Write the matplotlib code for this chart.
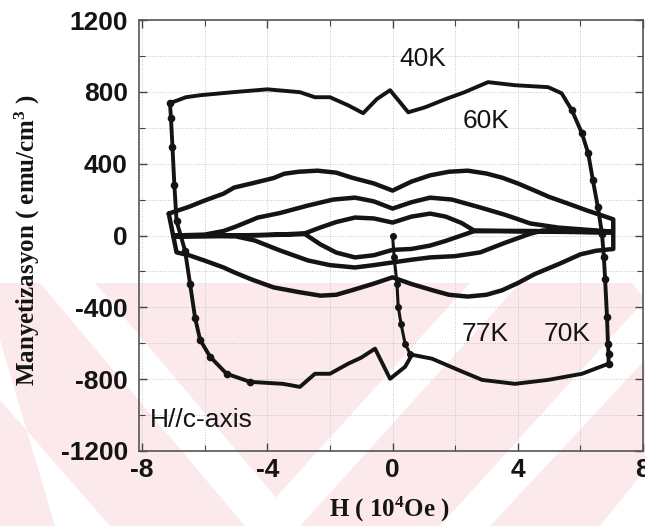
"""M-H hysteresis loops (H // c-axis) at 40, 60, 70 and 77 K."""

import matplotlib

matplotlib.use("Agg")

import matplotlib.pyplot as plt
from matplotlib.patches import Polygon
from matplotlib.ticker import MultipleLocator

W, HGT = 645, 526

# 40 K loop, in four pieces traced clockwise from the top-left corner
h_40k_top = [-7.11, -6.6, -6.15, -5.1, -4.0, -2.96, -2.48, -2.0, -1.42, -0.94, -0.5, -0.08,
             0.2, 0.5, 1.04, 1.7, 2.3, 3.05, 3.9, 4.97, 5.4, 5.73]
m_40k_top = [737, 770, 781, 798, 814, 798, 770, 770, 725, 681, 760, 809,
             750, 686, 714, 760, 798, 854, 837, 826, 792, 697]
h_40k_right = [6.05, 6.25, 6.4, 6.56, 6.69, 6.75, 6.79, 6.85, 6.88, 6.9, 6.9]
m_40k_right = [569, 457, 307, 156, 11, -120, -245, -452, -603, -660, -714]
h_40k_bottom = [6.05, 4.97, 3.91, 2.86, 2.09, 1.26, 0.62, 0.4, -0.08, -0.56, -1.0, -1.42,
                -2.0, -2.48, -2.96, -3.5, -4.55, -5.3]
m_40k_bottom = [-770, -804, -826, -804, -748, -686, -664, -731, -798, -630, -680, -714,
                -770, -770, -843, -826, -815, -770]
h_40k_left = [-5.83, -6.15, -6.31, -6.47, -6.63, -6.9, -6.97, -7.03, -7.08, -7.11]
m_40k_left = [-675, -580, -457, -268, -84, 80, 279, 491, 656, 737]

# initial (virgin) curve from the origin
h_virgin = [0.0, 0.05, 0.14, 0.18, 0.27, 0.4, 0.56]
m_virgin = [0, -120, -268, -396, -491, -603, -658]

# 60 K loop
h_60k = [-7.15, -6.5, -6.0, -5.4, -5.06, -4.5, -3.8, -3.46, -3.0, -2.4, -1.8, -1.3, -0.6, 0.0,
         0.6, 1.2, 1.8, 2.4, 3.0, 3.5, 4.0, 4.54, 5.0, 5.6, 6.2, 6.7, 7.05, 7.05,
         6.5, 6.0, 5.35, 4.54, 4.0, 3.5, 3.0, 2.4, 1.8, 1.3, 0.6, 0.0, -0.6, -1.3, -1.8,
         -2.3, -3.0, -3.8, -4.5, -5.06, -5.4, -6.0, -6.5, -6.9, -7.15]
m_60k = [122, 160, 195, 233, 267, 290, 320, 344, 355, 361, 350, 322, 290, 250,
         300, 335, 355, 361, 345, 322, 290, 250, 215, 178, 140, 111, 90, -75,
         -85, -105, -156, -215, -265, -305, -330, -340, -330, -306, -270, -233, -268, -305, -330,
         -335, -315, -289, -245, -205, -178, -140, -110, -94, 122]

# 70 K loop
h_70k = [-7.0, -6.0, -5.4, -5.0, -4.3, -3.6, -2.7, -1.9, -1.2, -0.6, 0.0, 0.6, 1.2, 1.9,
         2.8, 3.6, 4.4, 5.3, 6.2, 7.0,
         6.2, 5.3, 4.8, 4.4, 3.6, 2.8, 2.0, 1.2, 0.6, 0.0, -0.6, -1.2, -2.0, -2.7, -3.6,
         -4.4, -5.0, -6.0, -7.0]
m_70k = [0, 5, 25, 50, 100, 125, 167, 200, 211, 190, 150, 185, 211, 200,
         156, 115, 67, 44, 32, 22,
         24, 30, 28, 10, -40, -94, -115, -122, -135, -150, -165, -178, -165, -139, -83,
         -28, -5, -3, 0]

# 77 K loop
h_77k = [-7.0, -6.0, -5.0, -4.0, -3.4, -2.8, -2.3, -1.8, -1.2, -0.6, 0.0, 0.6, 1.2, 1.7,
         2.2, 2.6, 3.5, 4.5, 5.5, 6.3, 7.0,
         6.3, 5.5, 4.5, 3.5, 2.6, 2.2, 1.7, 1.2, 0.6, 0.0, -0.6, -1.2, -1.8, -2.3, -2.8,
         -3.4, -4.0, -5.0, -6.0, -7.0]
m_77k = [-5, -3, 0, 4, 7, 12, 45, 75, 100, 95, 72, 105, 122, 105,
         70, 28, 26, 25, 22, 20, 18,
         18, 20, 22, 24, 24, 0, -30, -56, -75, -80, -110, -122, -95, -50, 8,
         5, 2, 0, -3, -5]

loops = [(h_60k, m_60k), (h_70k, m_70k), (h_77k, m_77k)]

x_ticks = [-8, -4, 0, 4, 8]
x_ticklabels = ["-8", "-4", "0", "4", "8"]
y_ticks = [-1200, -800, -400, 0, 400, 800, 1200]
y_ticklabels = ["-1200", "-800", "-400", "0", "400", "800", "1200"]

# (text, H, M, ha)
labels = [
    ("40K", 0.97, 985, "center"),
    ("60K", 3.0, 640, "center"),
    ("77K", 2.95, -550, "center"),
    ("70K", 5.57, -550, "center"),
    ("H//c-axis", -7.75, -1025, "left"),
]

plt.rcParams["mathtext.fontset"] = "custom"
plt.rcParams["mathtext.rm"] = "Liberation Serif:bold"
plt.rcParams["mathtext.default"] = "rm"

fig = plt.figure(figsize=(W / 100, HGT / 100), dpi=100)


def fig_xy(x, y):
    return (x / W, 1 - y / HGT)


# pale pink chevron watermark behind the plot
PINK = "#fce9ec"
fig.add_artist(Polygon([fig_xy(0, 283), fig_xy(632, 283), fig_xy(645, 300),
                        fig_xy(645, 526), fig_xy(0, 526)],
                       closed=True, transform=fig.transFigure, fc=PINK, ec="none", zorder=-2))
white_bands = [
    [(40, 283), (95, 283), (300, 526), (245, 526)],
    [(0, 340), (0, 400), (110, 526), (55, 526)],
    [(470, 283), (520, 283), (300, 526), (250, 526)],
    [(645, 300), (645, 360), (490, 526), (440, 526)],
    [(645, 470), (645, 526), (600, 526)],
]
for band in white_bands:
    fig.add_artist(Polygon([fig_xy(*p) for p in band], closed=True,
                           transform=fig.transFigure, fc="white", ec="none", zorder=-1))

ax = fig.add_axes([139 / W, 1 - 451 / HGT, (643 - 139) / W, (451 - 20) / HGT])
ax.set_facecolor("none")

ink = "#141414"
h_40k = h_40k_top + h_40k_right + h_40k_bottom + h_40k_left
m_40k = m_40k_top + m_40k_right + m_40k_bottom + m_40k_left
# dots only on the steep field-reversal legs
n_top, n_right, n_bot = len(h_40k_top), len(h_40k_right), len(h_40k_bottom)
steep = list(range(n_top - 1, n_top + n_right)) + \
    list(range(n_top + n_right + n_bot - 2, len(h_40k)))
ax.plot(h_40k, m_40k, color=ink, lw=2.8, marker="o", ms=4.5, markevery=steep,
        solid_joinstyle="round")
ax.plot(h_virgin, m_virgin, color=ink, lw=2.2, marker="o", ms=4)
for h, m in loops:
    ax.plot(h, m, color=ink, lw=3.2, solid_joinstyle="round", solid_capstyle="round")

for text, hx, my, ha in labels:
    ax.text(hx, my, text, ha=ha, va="center", fontsize=19, color=ink,
            family="Liberation Sans")

ax.set_xlim(-8.1, 8.0)
ax.set_ylim(-1200, 1200)
ax.set_xticks(x_ticks)
ax.set_xticklabels(x_ticklabels)
ax.set_yticks(y_ticks)
ax.set_yticklabels(y_ticklabels)
ax.xaxis.set_minor_locator(MultipleLocator(2))
ax.yaxis.set_minor_locator(MultipleLocator(200))
ax.tick_params(which="both", direction="in", top=True, right=True, color="#444")
ax.tick_params(which="major", length=6, width=1)
ax.tick_params(which="minor", length=4, width=0.8)
ax.tick_params(axis="y", pad=8)
ax.tick_params(axis="x", pad=5)
for lab in ax.get_xticklabels() + ax.get_yticklabels():
    lab.set_fontfamily("Liberation Sans")
    lab.set_fontweight("bold")
    lab.set_fontsize(19)
    lab.set_color(ink)
ax.grid(which="both", ls=":", lw=0.7, color="#c4c4c4")
for sp in ax.spines.values():
    sp.set_color("#555")
    sp.set_linewidth(1.2)

fig.text(27 / W, 1 - 240 / HGT, r"Manyetizasyon ( emu/cm$^3$ )", rotation=90,
         ha="center", va="center", fontsize=18, fontweight="bold",
         family="Liberation Serif", color=ink)
fig.text(389 / W, 1 - 509 / HGT, r"H ( 10$^4$Oe )", ha="center", va="center",
         fontsize=18, fontweight="bold", family="Liberation Serif", color=ink)

fig.savefig("out.png", dpi=100)
